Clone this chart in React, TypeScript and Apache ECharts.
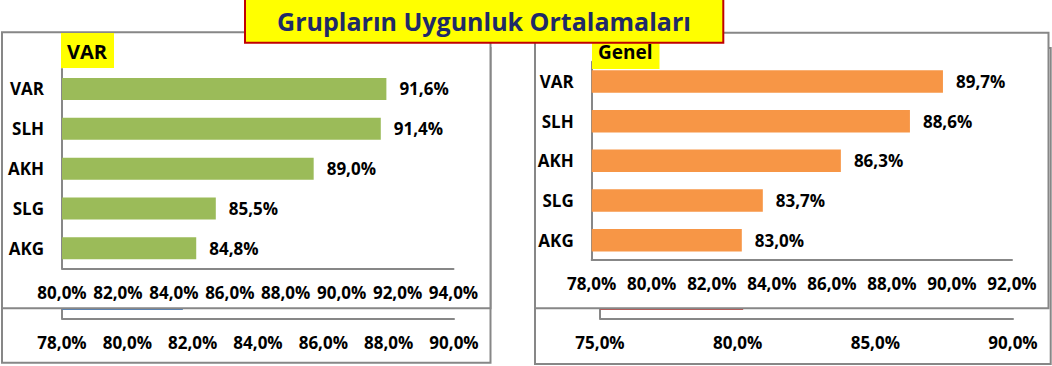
import React, { useEffect, useRef } from 'react';
import * as echarts from 'echarts';

const categories = ['VAR', 'SLH', 'AKH', 'SLG', 'AKG'];
const varValues = [91.6, 91.4, 89.0, 85.5, 84.8];
const genelValues = [89.7, 88.6, 86.3, 83.7, 83.0];
// edges of the charts lying behind (only a sliver of one bar is visible)
const hiddenLeftValues = [81.7];
const hiddenRightValues = [80.2];

const mainTitle = 'Grupların Uygunluk Ortalamaları';
const leftTitle = 'VAR';
const rightTitle = 'Genel';

// axis ranges (tick labels)
const leftFrontAxis = { min: 80, max: 94, interval: 2 };
const rightFrontAxis = { min: 78, max: 92, interval: 2 };
const leftBackAxis = { min: 78, max: 90, interval: 2 };
const rightBackAxis = { min: 75, max: 90, interval: 5 };

const FONT = '"Open Sans", "Noto Sans", sans-serif';
const GRAY = '#878787';

const fmt = (v: number) => v.toFixed(1).replace('.', ',') + '%';

function valueAxis(gridIndex: number, r: { min: number; max: number; interval: number }, margin: number, z: number) {
  return {
    type: 'value',
    gridIndex,
    min: r.min,
    max: r.max,
    interval: r.interval,
    z,
    splitLine: { show: false },
    axisTick: { show: false },
    axisLine: { show: true, onZero: false, lineStyle: { color: GRAY, width: 2 } },
    axisLabel: {
      formatter: (v: number) => fmt(v),
      margin,
      fontSize: 17,
      fontWeight: 'bold',
      color: '#000',
      fontFamily: FONT,
    },
  };
}

function catAxis(gridIndex: number, data: string[], showLabels: boolean, margin: number, z: number) {
  return {
    type: 'category',
    gridIndex,
    data,
    inverse: true,
    z,
    axisTick: { show: false },
    axisLine: { show: true, lineStyle: { color: GRAY, width: 2 } },
    axisLabel: {
      show: showLabels,
      margin,
      fontSize: 17,
      fontWeight: 'bold',
      color: '#000',
      fontFamily: FONT,
    },
  };
}

function barLabel() {
  return {
    show: true,
    position: 'right',
    distance: 13,
    formatter: (p: any) => fmt(p.value),
    fontSize: 17,
    fontWeight: 'bold',
    color: '#000',
    fontFamily: FONT,
  };
}

export default function App() {
  const ref = useRef<HTMLDivElement>(null);
  useEffect(() => {
    if (!ref.current) return;
    const chart = echarts.init(ref.current, undefined, { renderer: 'svg' });
    const option: any = {
      animation: false,
      backgroundColor: '#ffffff',
      textStyle: { fontFamily: FONT },
      title: [
        {
          text: leftTitle,
          left: 61,
          top: 33,
          backgroundColor: '#FFFF00',
          padding: [7, 7, 6, 6],
          z: 6,
          textStyle: { fontSize: 20, fontWeight: 'bold', color: '#000', lineHeight: 22, fontFamily: FONT },
        },
        {
          text: rightTitle,
          left: 592,
          top: 34,
          backgroundColor: '#FFFF00',
          padding: [7, 7, 6, 6],
          z: 6,
          textStyle: { fontSize: 19, fontWeight: 'bold', color: '#000', lineHeight: 22, fontFamily: FONT },
        },
      ],
      grid: [
        { left: 62, top: 69, width: 391.5, height: 199.3 },
        { left: 591.7, top: 61.7, width: 420.3, height: 198.3 },
        { left: 62, top: 278.7, width: 392, height: 39.6 },
        { left: 600, top: 278.7, width: 413, height: 39.6 },
      ],
      xAxis: [
        valueAxis(0, leftFrontAxis, 16, 3),
        valueAxis(1, rightFrontAxis, 15, 3),
        valueAxis(2, leftBackAxis, 16, 1),
        valueAxis(3, rightBackAxis, 16, 1),
      ],
      yAxis: [
        catAxis(0, categories, true, 18, 3),
        catAxis(1, categories, true, 18, 3),
        catAxis(2, ['AKG'], false, 8, 1),
        catAxis(3, ['AKG'], false, 8, 1),
      ],
      series: [
        {
          type: 'bar',
          name: leftTitle,
          xAxisIndex: 0,
          yAxisIndex: 0,
          data: varValues,
          barWidth: 22,
          itemStyle: { color: '#9BBB59' },
          label: barLabel(),
          z: 4,
        },
        {
          type: 'bar',
          name: rightTitle,
          xAxisIndex: 1,
          yAxisIndex: 1,
          data: genelValues,
          barWidth: 22.5,
          itemStyle: { color: '#F79646' },
          label: barLabel(),
          z: 4,
        },
        {
          type: 'bar',
          xAxisIndex: 2,
          yAxisIndex: 2,
          data: hiddenLeftValues,
          barWidth: 23,
          itemStyle: { color: '#4F81BD' },
          z: 1,
        },
        {
          type: 'bar',
          xAxisIndex: 3,
          yAxisIndex: 3,
          data: hiddenRightValues,
          barWidth: 23,
          itemStyle: { color: '#C0504D' },
          z: 1,
        },
      ],
      graphic: {
        elements: [
          {
            type: 'rect',
            z: 0,
            shape: { x: 2, y: 48, width: 488.5, height: 314.7 },
            style: { fill: '#fff', stroke: GRAY, lineWidth: 2 },
            silent: true,
          },
          {
            type: 'rect',
            z: 0,
            shape: { x: 535, y: 48, width: 515.7, height: 316 },
            style: { fill: '#fff', stroke: GRAY, lineWidth: 2 },
            silent: true,
          },
          {
            type: 'rect',
            z: 2,
            shape: { x: 2, y: 32.3, width: 488.5, height: 276 },
            style: { fill: '#fff', stroke: GRAY, lineWidth: 2 },
            silent: true,
          },
          {
            type: 'rect',
            z: 2,
            shape: { x: 535, y: 32.7, width: 513.5, height: 275.5 },
            style: { fill: '#fff', stroke: GRAY, lineWidth: 2 },
            silent: true,
          },
          {
            type: 'rect',
            z: 10,
            shape: { x: 245, y: -4, width: 478.3, height: 46.7 },
            style: { fill: '#FFFF00', stroke: '#C00000', lineWidth: 2 },
            silent: true,
          },
          {
            type: 'text',
            z: 11,
            x: 484,
            y: 21,
            silent: true,
            style: {
              text: mainTitle,
              fill: '#1F2A68',
              font: `bold 25px ${FONT}`,
              fontSize: 25,
              fontWeight: 'bold',
              fontFamily: FONT,
              align: 'center',
              verticalAlign: 'middle',
              textAlign: 'center',
              textVerticalAlign: 'middle',
            },
          },
        ],
      },
    };
    chart.setOption(option);
    return () => chart.dispose();
  }, []);
  return (
    <div
      ref={ref}
      style={{ position: 'fixed', left: 0, top: 0, width: 1052, height: 366 }}
    />
  );
}
